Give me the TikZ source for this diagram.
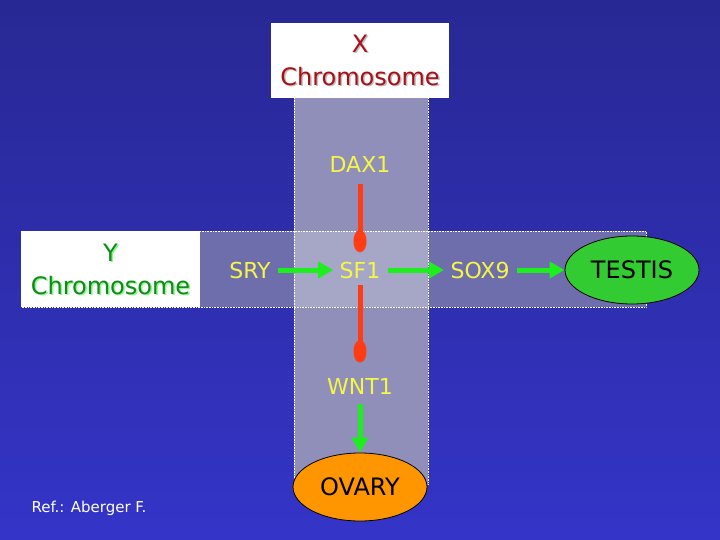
\documentclass[tikz,border=0pt]{standalone}
\usepackage{fontspec}
\setmainfont{DejaVu Sans}
\usetikzlibrary{shapes.geometric,arrows.meta}
\definecolor{bgtop}{RGB}{40,40,148}
\definecolor{bgbot}{RGB}{52,52,200}
\definecolor{hband}{RGB}{110,110,172}
\definecolor{vband}{RGB}{143,143,186}
\definecolor{xband}{RGB}{166,166,198}
\definecolor{gtxt}{RGB}{246,246,70}
\definecolor{redtxt}{RGB}{170,14,20}
\definecolor{greentxt}{RGB}{20,135,30}
\definecolor{arrgreen}{RGB}{30,238,30}
\definecolor{inhred}{RGB}{255,60,20}
\definecolor{testis}{RGB}{50,204,50}
\definecolor{ovary}{RGB}{255,150,0}
\tikzset{
  gene/.style={text=gtxt,font=\fontsize{22}{24}\selectfont},
  act/.style={draw=arrgreen,line width=5pt,-{Triangle[length=15pt,width=16pt]}},
  inhib/.style={draw=inhred,line width=5pt,-{Ellipse[length=22pt,width=13pt]}},
  organ/.style={ellipse,draw=black,line width=0.8pt,minimum width=134pt,minimum height=68pt,inner sep=0pt,font=\fontsize{24}{26}\selectfont},
  dotb/.style={draw=white,densely dotted,line width=0.6pt},
  chrfont/.style={font=\fontsize{24}{33}\selectfont,align=center}
}
\begin{document}
\begin{tikzpicture}[x=1pt,y=-1pt]
\useasboundingbox (0,0) rectangle (720,540);
\shade[top color=bgtop,bottom color=bgbot] (0,0) rectangle (720,540);
% bands
\fill[hband] (21,231) rectangle (646,307);
\fill[vband] (294,98) rectangle (428,485);
\fill[xband] (294,231) rectangle (428,307);
\draw[dotb] (21,231) -- (646,231) -- (646,307) -- (21,307);
\draw[dotb] (294,98) -- (294,485);
\draw[dotb] (428,98) -- (428,485);
% chromosome boxes
\fill[white] (271,23) rectangle (449,98);
\fill[white] (21,231) rectangle (200,307);
\node[text=black!25,chrfont] at (361.5,61.5) {X\\Chromosome};
\node (xchr) [text=redtxt,chrfont] at (360,60) {X\\Chromosome};
\node[text=green!50!white,chrfont] at (112,270.5) {Y\\Chromosome};
\node (ychr) [text=greentxt,chrfont] at (110.5,269) {Y\\Chromosome};
% genes
\node (dax) [gene] at (360,164) {DAX1};
\node (sry) [gene] at (250,270) {SRY};
\node (sf1) [gene] at (360,270) {SF1};
\node (sox) [gene] at (480,270) {SOX9};
\node (wnt) [gene] at (360,386) {WNT1};
\node (testis) [organ,fill=testis] at (632,270) {TESTIS};
\node (ovary) [organ,fill=ovary] at (360,487) {OVARY};
% connectors
\draw[act,shorten <=4pt,shorten >=3pt] (sry) -- (sf1);
\draw[act,shorten <=4pt,shorten >=3pt] (sf1) -- (sox);
\draw[act,shorten <=4pt] (sox) -- (testis);
\draw[act,shorten <=6pt] (wnt) -- (ovary);
\draw[inhib,shorten <=8pt,shorten >=6pt] (dax) -- (sf1);
\draw[inhib,shorten <=3pt,shorten >=12pt] (sf1) -- (wnt);
% reference
\node (ref) [text=white,font=\fontsize{15}{17}\selectfont,anchor=west] at (28,508) {Ref.: Aberger F.};
\end{tikzpicture}
\end{document}
